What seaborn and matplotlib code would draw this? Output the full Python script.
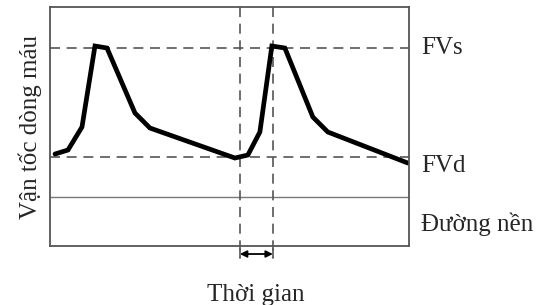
import matplotlib
matplotlib.use("Agg")
import matplotlib.pyplot as plt
import pandas as pd
import seaborn as sns

# Data (time and velocity in arbitrary units)
time = [5, 18, 32, 45, 57, 85, 100, 185, 198, 210, 222, 235, 263, 278, 358]
velocity = [92, 96, 119, 200, 198, 133, 118, 88, 91, 114, 200, 198, 129, 114, 83]
fvs_level = 198
fvd_level = 89
baseline_level = 49
period_marks = [190, 223]
labels = ["FVs", "FVd", "Đường nền"]
label_y = [198, 80, 22]

df = pd.DataFrame({"time": time, "velocity": velocity})

sns.set_theme(style="white")
plt.rcParams["font.family"] = ["Liberation Serif", "DejaVu Serif"]

fig = plt.figure(figsize=(5.4, 3.05), dpi=100)
ax = fig.add_axes([0.0926, 0.1934, 0.757 - 0.0926, 0.977 - 0.1934])

xmax, ymax = 359, 239
ax.set_xlim(0, xmax)
ax.set_ylim(0, ymax)

grey = "#555555"
dash = (0, (6, 4))

# reference levels
ax.plot([0, xmax], [fvs_level, fvs_level], color=grey, lw=1.2, linestyle=dash)
ax.plot([0, xmax], [fvd_level, fvd_level], color=grey, lw=1.2, linestyle=dash)
ax.plot([0, xmax], [baseline_level, baseline_level], color="#777777", lw=1.0)

# period marks going below the frame
for t in period_marks:
    ax.plot([t, t], [ymax, -12], color=grey, lw=1.2, linestyle=dash, clip_on=False)
    ax.plot([t, t], [-3, -12], color=grey, lw=1.2, clip_on=False)
ax.annotate("", xy=(period_marks[0], -8), xytext=(period_marks[1], -8),
            arrowprops=dict(arrowstyle="<|-|>", color="black", lw=1.3,
                            shrinkA=0, shrinkB=0, mutation_scale=10),
            annotation_clip=False)

# velocity curve
sns.lineplot(data=df, x="time", y="velocity", ax=ax, color="black", lw=3.4,
             sort=False, solid_joinstyle="miter")

ax.set_xticks([])
ax.set_yticks([])
ax.set_xlabel("Thời gian", fontsize=18)
ax.xaxis.set_label_coords(0.574, -0.16)
ax.set_ylabel("Vận tốc dòng máu", fontsize=18, labelpad=6)
for s in ax.spines.values():
    s.set_color(grey)
    s.set_linewidth(1.3)

for lab, y in zip(labels, label_y):
    ax.text(xmax + 12, y, lab, fontsize=18, va="center", ha="left")

fig.savefig("out.png", dpi=100)
